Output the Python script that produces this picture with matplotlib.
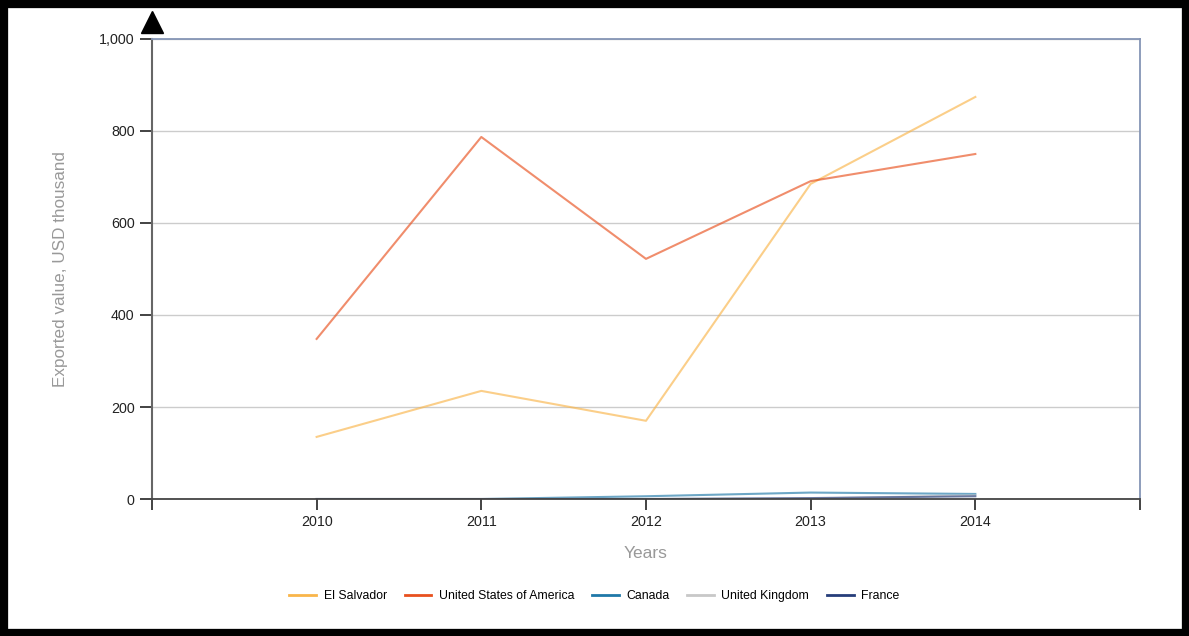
import matplotlib.pyplot as plt
from matplotlib.lines import Line2D
from matplotlib.patches import Rectangle
from matplotlib.transforms import ScaledTranslation
from matplotlib.ticker import FuncFormatter

plt.rcParams['font.family'] = ['Liberation Sans', 'DejaVu Sans']

years = [2010, 2011, 2012, 2013, 2014]
countries = ['El Salvador', 'United States of America', 'Canada',
             'United Kingdom', 'France']
el_salvador = [135, 235, 170, 685, 874]
usa = [348, 787, 522, 691, 750]
canada = [0, 0, 6, 14, 11]
uk = [0, 0, 0, 1, 8]
france = [0, 0, 0, 2, 6]
series = [el_salvador, usa, canada, uk, france]

cols = ['#F9B54A', '#E8501E', '#1F78A8', '#C8C8C8', '#263D7A']

fig = plt.figure(figsize=(11.89, 6.36), dpi=100)
ax = fig.add_axes([0.1278, 0.2154, 0.831, 0.7233])

for vals, c in zip(series, cols):
    ax.plot(years, vals, color=c, lw=1.5, alpha=0.65)

ax.set_xlim(2009, 2015)
ax.set_ylim(0, 1000)
ax.set_xticks(range(2009, 2016))
ax.set_xticklabels([''] + [str(y) for y in years] + [''])
ax.set_yticks(range(0, 1001, 200))
ax.yaxis.set_major_formatter(FuncFormatter(lambda v, p: f'{int(v):,}'))
ax.tick_params(axis='both', labelsize=10.3, colors='#222222', length=8, width=1.2)
ax.tick_params(axis='y', length=9)
ax.grid(axis='y', color='#cccccc', lw=1)
ax.set_axisbelow(True)

ax.spines['left'].set_color('#666666')
ax.spines['bottom'].set_color('#444444')
ax.spines['left'].set_linewidth(1.5)
ax.spines['bottom'].set_linewidth(1.3)
for s in ['top', 'right']:
    ax.spines[s].set_color('#8595B5')
    ax.spines[s].set_linewidth(1.3)

# axis arrow on top of y axis
ax.plot([2009], [1000], marker='^', markersize=16, color='black', clip_on=False,
        transform=ax.transData + ScaledTranslation(0, 17 / 100, fig.dpi_scale_trans))

ax.set_ylabel('Exported value, USD thousand', color='#999999', fontsize=12.3, labelpad=22)
ax.set_xlabel('Years', color='#999999', fontsize=12.5, labelpad=12)

handles = [Line2D([], [], color=c, lw=2) for c in cols]
fig.legend(handles, countries, loc='center', bbox_to_anchor=(0.5, 0.063), ncol=5,
           frameon=False, fontsize=8.8, handlelength=2.2, columnspacing=1.45,
           handletextpad=0.6)

# black frame around the figure
fig.patches.append(Rectangle((0, 0), 1, 1, transform=fig.transFigure, fill=False,
                             edgecolor='black', lw=11))

plt.savefig('out.png', dpi=100)
